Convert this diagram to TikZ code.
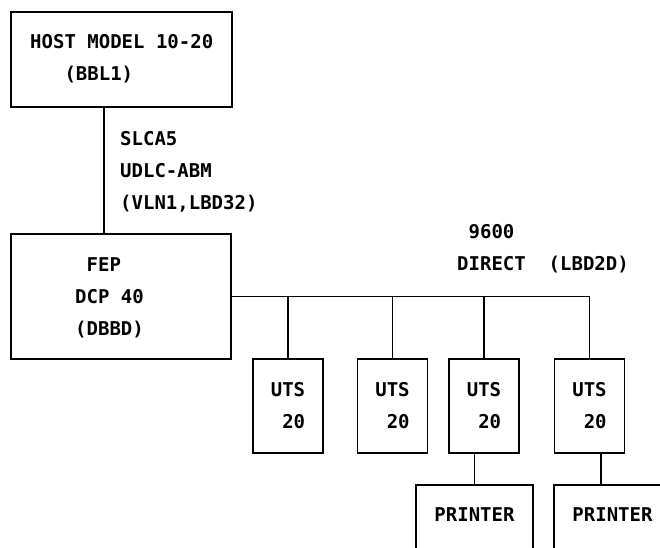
\documentclass[tikz,border=0pt]{standalone}
\usepackage{fontspec}
\newfontfamily\plotter{DejaVu Sans Mono}
\usetikzlibrary{positioning}
\tikzset{
  quadro/.style={draw, line width=1.6pt, inner sep=0pt, align=center},
  texto/.style={inner sep=0pt, anchor=west, align=left},
  liga/.style={line width=1.6pt},
}
\newcommand{\esp}{\phantom{X}}

\begin{document}
\begin{tikzpicture}[x=1pt, y=-1pt, font=\plotter\bfseries\fontsize{19}{32}\selectfont]
  \useasboundingbox (0,0) rectangle (660,547);
  \clip (0,0) rectangle (660,547);
  % host e FEP
  \node[quadro, minimum width=221pt, minimum height=95pt] (host) at (121.5,59.5) {};
  \node[texto] (hostt) at (30,59) {HOST MODEL 10-20\\\esp\esp\esp(BBL1)};
  \node[quadro, minimum width=220pt, minimum height=125pt] (fep) at (121,296.5) {};
  \node[texto] (fept) at (75,298) {\esp FEP\\DCP 40\\(DBBD)};
  \coordinate (desce) at (104,0);
  \draw[liga] (host.south -| desce) -- (fep.north -| desce);
  \node[texto] (slca) at (120,172) {SLCA5\\UDLC-ABM\\(VLN1,LBD32)};
  % terminais
  \foreach \n/\x in {1/288,2/392.5,3/484,4/589.5}
    \node[quadro, minimum width=70pt, minimum height=94pt, align=right] (uts\n) at (\x,406) {UTS\\20};
  \draw[liga] (fep.east) -| (uts4.north);
  \foreach \n in {1,2,3}
    \draw[liga] (uts\n.north) -- (uts\n.north |- fep.east);
  \node[texto] (linha) at (457,249) {\esp 9600\\DIRECT\esp\esp(LBD2D)};
  % impressoras
  \node[quadro, minimum width=117pt, minimum height=66pt, text depth=6pt] (impr1) at (474.5,518) {PRINTER};
  \node[quadro, minimum width=117pt, minimum height=66pt, text depth=6pt] (impr2) at (612.5,518) {PRINTER};
  \draw[liga] (uts3.south -| impr1.north) -- (impr1.north);
  \coordinate (desce2) at (601,0);
  \draw[liga] (uts4.south -| desce2) -- (impr2.north -| desce2);
\end{tikzpicture}
\end{document}
